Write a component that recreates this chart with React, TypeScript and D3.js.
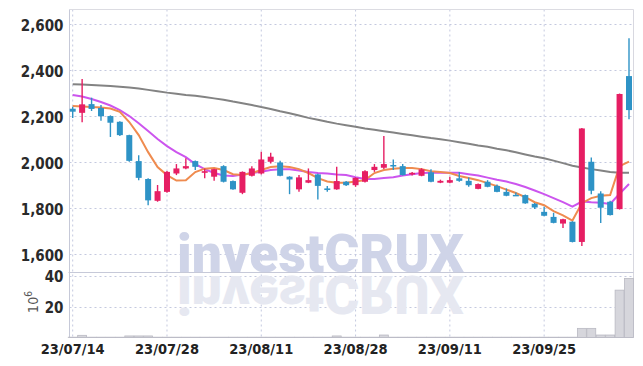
import React from "react";
import * as d3 from "d3";

const dates = [
  "23/07/14","23/07/17","23/07/18","23/07/19","23/07/20","23/07/21","23/07/24","23/07/25","23/07/26","23/07/27",
  "23/07/28","23/07/31","23/08/01","23/08/02","23/08/03","23/08/04","23/08/07","23/08/08","23/08/09","23/08/10",
  "23/08/11","23/08/14","23/08/16","23/08/17","23/08/18","23/08/21","23/08/22","23/08/23","23/08/24","23/08/25",
  "23/08/28","23/08/29","23/08/30","23/08/31","23/09/01","23/09/04","23/09/05","23/09/06","23/09/07","23/09/08",
  "23/09/11","23/09/12","23/09/13","23/09/14","23/09/15","23/09/18","23/09/19","23/09/20","23/09/21","23/09/22",
  "23/09/25","23/09/26","23/09/27","23/10/04","23/10/05","23/10/06","23/10/10","23/10/11","23/10/12","23/10/13",
];

const open = [
  2231,2213,2251,2234,2199,2174,2116,2003,1925,1830,
  1869,1949,1971,2003,1952,1935,1981,1916,1865,1939,
  1949,2000,1997,1935,1880,1909,1945,1884,1880,1913,
  1898,1913,1964,1974,1986,1981,1945,1939,1954,1909,
  1909,1928,1917,1882,1913,1895,1869,1856,1855,1817,
  1782,1760,1731,1739,1651,2000,1862,1826,1794,2373,
];
const high = [
  2240,2360,2279,2247,2202,2176,2118,2028,1928,1899,
  1960,1990,2015,2005,1971,1970,1985,1918,1958,1980,
  2044,2039,2004,1937,1942,1971,1948,1894,1978,1916,
  1932,1963,1990,2112,2010,1990,1955,1972,1967,1922,
  1935,1956,1932,1905,1920,1901,1884,1866,1857,1820,
  1804,1778,1752,1741,2147,2019,1872,1830,2297,2538,
];
const low = [
  2190,2172,2221,2179,2108,2112,2000,1920,1811,1826,
  1865,1942,1967,1964,1928,1917,1910,1878,1859,1936,
  1945,1993,1937,1859,1869,1907,1836,1869,1878,1894,
  1891,1910,1956,1968,1964,1940,1940,1937,1911,1907,
  1907,1913,1891,1880,1889,1867,1850,1852,1817,1794,
  1763,1732,1712,1649,1633,1859,1734,1766,1792,2185,
];
const close = [
  2218,2250,2230,2198,2170,2116,2004,1930,1832,1872,
  1956,1971,1981,1978,1959,1968,1913,1880,1956,1971,
  2010,2022,1939,1923,1932,1920,1895,1877,1916,1898,
  1930,1959,1978,1990,1981,1942,1952,1967,1913,1917,
  1920,1917,1898,1903,1891,1869,1852,1853,1819,1801,
  1765,1734,1750,1651,2145,1874,1800,1768,2295,2225,
];

const ma5 = [
  2243,2241,2238,2236,2232,2217,2173,2116,2042,1977,
  1942,1918,1920,1955,1970,1973,1964,1946,1942,1951,
  1964,1977,1981,1977,1968,1951,1929,1914,1909,1909,
  1914,1920,1951,1964,1970,1973,1973,1968,1959,1955,
  1951,1938,1929,1920,1907,1894,1879,1864,1846,1824,
  1811,1785,1767,1744,1820,1842,1852,1855,1981,2001,
];
const ma20 = [
  2291,2284,2273,2260,2245,2225,2199,2168,2134,2099,
  2068,2042,2020,1990,1968,1951,1940,1938,1944,1951,
  1957,1964,1967,1967,1962,1955,1951,1949,1945,1942,
  1933,1925,1925,1929,1933,1940,1946,1951,1952,1952,
  1952,1952,1946,1940,1931,1922,1914,1903,1890,1875,
  1859,1842,1824,1805,1827,1824,1822,1816,1861,1903,
];
const ma120 = [
  2337,2336,2334,2332,2330,2327,2323,2319,2313,2307,
  2301,2296,2291,2287,2282,2276,2270,2262,2255,2247,
  2238,2230,2220,2211,2201,2191,2183,2174,2166,2159,
  2152,2145,2139,2133,2127,2121,2115,2109,2103,2098,
  2092,2085,2078,2071,2065,2057,2050,2041,2032,2023,
  2015,2005,1994,1983,1975,1968,1962,1955,1952,1952,
];

const volume = [
  0.2,1.4,0.2,0.2,0.2,0.2,1.0,1.0,1.0,0.2,
  0.2,0.2,0.2,0.2,0.2,0.2,0.2,0.2,0.2,0.2,
  0.2,0.2,0.2,0.2,0.2,0.2,0.2,0.2,1.0,0.2,
  0.2,0.2,0.2,1.6,0.2,0.2,0.2,0.2,0.2,0.2,
  0.2,0.2,0.2,0.2,0.2,0.2,0.2,0.2,0.2,0.2,
  0.2,0.2,0.2,0.2,5.9,5.9,1.6,1.6,30.6,38.2,
];

const priceTicks = [1600, 1800, 2000, 2200, 2400, 2600];
const volumeTicks = [20, 40];
const tickDates = ["23/07/14", "23/07/28", "23/08/11", "23/08/28", "23/09/11", "23/09/25"];

const W = 643;
const H = 366;
const left = 69.5;
const right = 633.5;
const top = 9.5;
const split = 272.5;
const bottom = 337.5;

const UP = "#e61e63";
const DOWN = "#2e93c6";
const GRID = "#c4c9df";
const LABEL_FONT = "'Liberation Sans Narrow', 'DejaVu Sans Condensed', sans-serif";

export default function App() {
  const x = d3.scalePoint<string>().domain(dates).range([72.7, 629]);
  const y = d3.scaleLinear().domain([1518, 2665]).range([split, top - 0.5]);
  const yv = d3.scaleLinear().domain([0, 42]).range([bottom, split]);
  const candleW = 6;
  const barW = x.step() - 0.5;

  const line = (vals: number[]) =>
    d3.line<number>().x((_, i) => x(dates[i]) as number).y((v) => y(v))(vals) || "";

  return (
    <svg width={W} height={H} style={{ position: "absolute", left: 0, top: 0, background: "#fff" }}>
      {/* grid */}
      {priceTicks.map((t) => (
        <line key={"pg" + t} x1={left} x2={right} y1={Math.round(y(t)) + 0.5} y2={Math.round(y(t)) + 0.5}
          stroke={GRID} strokeDasharray="2,3" />
      ))}
      {volumeTicks.map((t) => (
        <line key={"vg" + t} x1={left} x2={right} y1={Math.round(yv(t)) + 0.5} y2={Math.round(yv(t)) + 0.5}
          stroke={GRID} strokeDasharray="2,3" />
      ))}
      {tickDates.map((d) => (
        <line key={"xg" + d} x1={x(d)} x2={x(d)} y1={top} y2={bottom} stroke={GRID} strokeDasharray="2,3" />
      ))}

      {/* watermark with reflection */}
      <g fontFamily="Roboto, 'DejaVu Sans', sans-serif" fontWeight={900} fontSize={54}>
        <text x={177} y={272} textLength={287} lengthAdjust="spacingAndGlyphs" fill="#cfd4e8">investCRUX</text>
        <text x={177} y={272} textLength={287} lengthAdjust="spacingAndGlyphs" fill="#e6e8f1"
          transform="translate(0,548) scale(1,-1)">investCRUX</text>
      </g>

      {/* frame */}
      <line x1={left} x2={right} y1={top} y2={top} stroke="#dcdce2" />
      <line x1={left} x2={left} y1={top} y2={bottom} stroke="#c6c9d8" />
      <line x1={right} x2={right} y1={top} y2={bottom} stroke="#d8d8e0" />
      <line x1={left - 1} x2={right} y1={split} y2={split} stroke="#c6c9d8" />
      <line x1={left} x2={right} y1={bottom} y2={bottom} stroke="#c6c9d8" />

      {/* volume */}
      {volume.map((v, i) => (
        <rect key={"v" + i} x={(x(dates[i]) as number) - barW / 2} y={yv(v)} width={barW}
          height={bottom - yv(v)} fill="#d6d6dc" stroke="#b9b9c2" strokeWidth={0.8} />
      ))}

      {/* moving averages */}
      <path d={line(ma120)} fill="none" stroke="#838383" strokeWidth={2} />
      <path d={line(ma20)} fill="none" stroke="#cc55ee" strokeWidth={2} />
      <path d={line(ma5)} fill="none" stroke="#ef8b4f" strokeWidth={2} />

      {/* candles */}
      {dates.map((d, i) => {
        const cx = x(d) as number;
        const up = close[i] >= open[i];
        const c = up ? UP : DOWN;
        const yTop = y(Math.max(open[i], close[i]));
        const yBot = y(Math.min(open[i], close[i]));
        return (
          <g key={"c" + i}>
            <line x1={cx} x2={cx} y1={y(high[i])} y2={y(low[i])} stroke={c} strokeWidth={1.4} />
            <rect x={cx - candleW / 2} y={yTop} width={candleW} height={Math.max(1.5, yBot - yTop)} fill={c} />
          </g>
        );
      })}

      {/* axis labels */}
      <g fontFamily={LABEL_FONT} fontSize={15} fontWeight="bold" fill="#2a2a2a" textAnchor="end">
        {priceTicks.map((t) => (
          <text key={"pl" + t} x={63.5} y={y(t) + 7}>{d3.format(",")(t)}</text>
        ))}
        {volumeTicks.map((t) => (
          <text key={"vl" + t} x={63.5} y={yv(t) + 6.5}>{t}</text>
        ))}
      </g>
      <text transform="translate(38,302) rotate(-90)" fontFamily={LABEL_FONT} fontSize={14} fill="#555"
        textAnchor="middle">10<tspan dy={-6} fontSize={10}>6</tspan></text>
      <g fontFamily={LABEL_FONT} fontSize={14.5} fontWeight="bold" fill="#222" textAnchor="middle">
        {tickDates.map((d) => (
          <text key={"xl" + d} x={x(d)} y={354}>{d}</text>
        ))}
      </g>
    </svg>
  );
}
